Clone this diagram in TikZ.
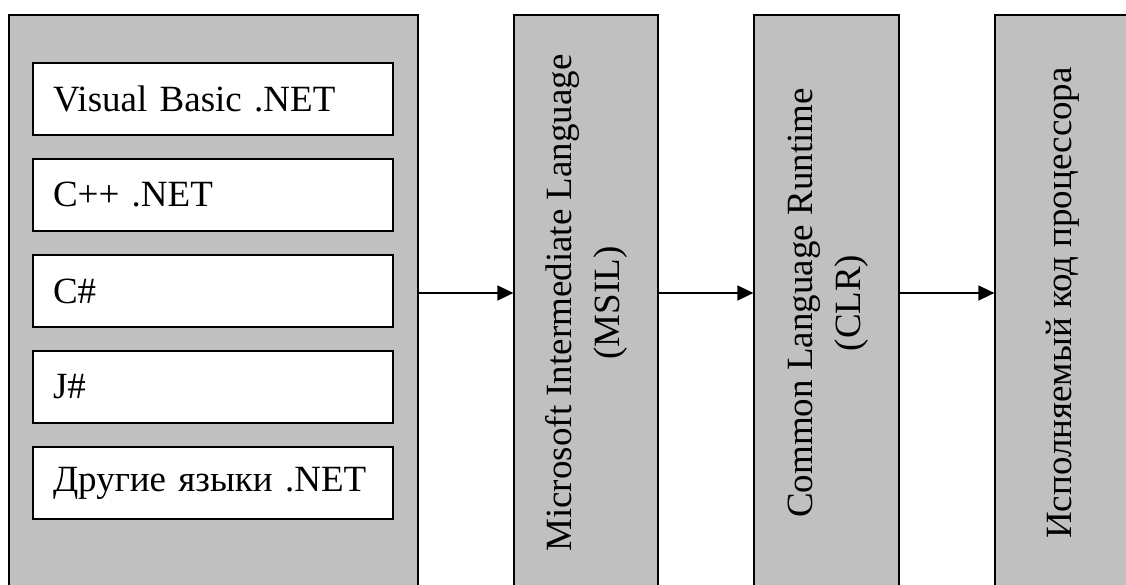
\documentclass[tikz,border=0pt]{standalone}
\usepackage{fontspec}
\setmainfont{Liberation Serif}
\usetikzlibrary{arrows.meta}
\definecolor{panelgray}{RGB}{192,192,192}
\tikzset{
  panel/.style={rectangle,draw=black,fill=panelgray,line width=1.3pt,inner sep=0pt},
  lang/.style={rectangle,draw=black,fill=white,line width=1.3pt,minimum width=360pt,minimum height=72pt,text width=320pt,inner xsep=20pt,inner ysep=0pt,align=left,font=\fontsize{37}{44}\selectfont},
  stage/.style={panel,minimum height=576pt,font=\fontsize{37}{48}\selectfont},
  flow/.style={-{Triangle[length=16pt,width=15pt]},line width=1.6pt},
}

\begin{document}
\begin{tikzpicture}[x=1pt,y=-1pt]
  \path[use as bounding box,clip] (0,0) rectangle (1126,585);
  % languages
  \node[panel,minimum width=409pt,minimum height=576pt](langs) at (213.5,303){};
  \node[lang](vb) at (213,99){Visual Basic .NET};
  \node[lang](cpp) at (213,195){C++ .NET};
  \node[lang](cs) at (213,291){C\#};
  \node[lang](js) at (213,387){J\#};
  \node[lang](other) at (213,483){Другие языки .NET};
  % stages
  \node[stage,minimum width=144pt](msil) at (586,303){\rotatebox{90}{\begin{tabular}{@{}c@{}}Microsoft Intermediate Language\\(MSIL)\end{tabular}}};
  \node[stage,minimum width=145pt](clr) at (826.5,303){\rotatebox{90}{\begin{tabular}{@{}c@{}}Common Language Runtime\\(CLR)\end{tabular}}};
  \node[stage,minimum width=135pt](cpu) at (1062.5,303){\rotatebox{90}{Исполняемый код процессора}};
  \draw[flow] ([yshift=10pt]langs.east) -- ([yshift=10pt]msil.west);
  \draw[flow] ([yshift=10pt]msil.east) -- ([yshift=10pt]clr.west);
  \draw[flow] ([yshift=10pt]clr.east) -- ([yshift=10pt]cpu.west);
\end{tikzpicture}
\end{document}
